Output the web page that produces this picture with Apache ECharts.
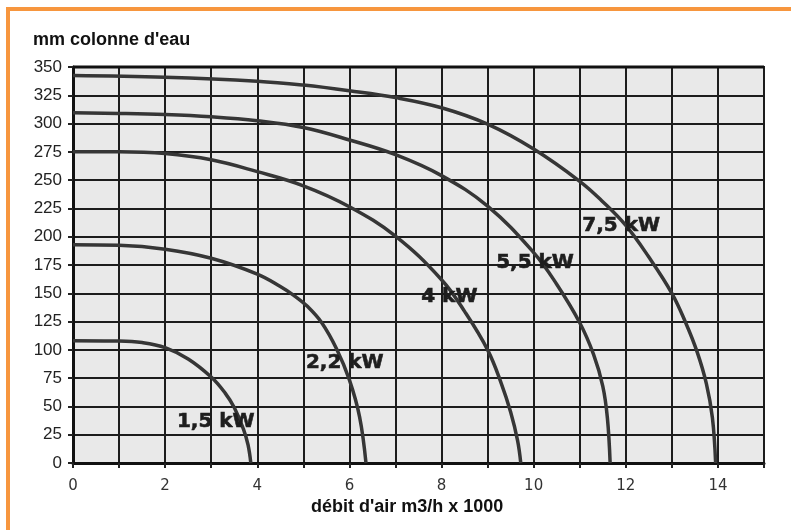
<!DOCTYPE html>
<html>
<head>
<meta charset="utf-8">
<script src="https://cdn.jsdelivr.net/npm/echarts@6/dist/echarts.min.js"></script>
<style>html,body{margin:0;padding:0;background:#fff}#c{width:791px;height:530px}</style>
</head>
<body>
<div id="c"></div>
<script>
// Fan curves: [airflow (m3/h x 1000), pressure (mm water column)]
const curve15 = [[0,108],[1,107.8],[1.5,106.5],[2,102],[2.5,92],[3,76],[3.3,62],[3.5,49],[3.7,30],[3.8,16],[3.86,0]];
const curve22 = [[0,193],[1,192.5],[2,189],[3,181],[4,167],[4.5,156],[4.8,148],[5.1,138],[5.4,124],[5.72,101],[6,73.5],[6.22,41],[6.36,0]];
const curve4  = [[0,275],[1,275],[2,273.5],[3,268],[4,257.5],[5,245],[6,226.5],[7,200.5],[8,162],[8.5,134],[9,100],[9.3,70],[9.5,45],[9.65,20],[9.72,0]];
const curve55 = [[0,309.5],[1,309],[2,308],[3,306],[4,302.5],[5,296.5],[6,285.5],[7,272.5],[8,254],[9,227],[10,186],[10.5,158],[11,124],[11.3,96],[11.5,68],[11.6,40],[11.66,0]];
const curve75 = [[0,342.5],[2,341],[4,337.5],[5,334],[6,329],[7,323],[8,314],[9,299.5],[10,277.5],[11,249],[11.5,231],[12,210],[12.5,182],[13,150],[13.3,124],[13.55,98],[13.75,70],[13.88,40],[13.95,0]];
const curveLabels = ['1,5 kW','2,2 kW','4 kW','5,5 kW','7,5 kW'];
const labelPos = [[3.1,36],[5.9,89],[8.17,146.5],[10.03,177],[11.9,210]];
const xTicks = [0,2,4,6,8,10,12,14];
const yTitle = "mm colonne d'eau";
const xTitle = "débit d'air m3/h x 1000";

const chart = echarts.init(document.getElementById('c'));
const curves = [curve15, curve22, curve4, curve55, curve75];
const lineSeries = curves.map(d => ({
  type: 'line', data: d, smooth: 0.4, showSymbol: false, symbol: 'none',
  lineStyle: {color: '#363636', width: 3.5}, z: 3, silent: true
}));
lineSeries.push({
  type: 'scatter', z: 4, silent: true,
  data: labelPos.map((p, i) => ({value: p, name: curveLabels[i]})),
  symbolSize: 0, itemStyle: {color: '#222', opacity: 1},
  label: {show: true, position: 'inside', formatter: p => p.name, opacity: 1,
    fontFamily: 'DejaVu Sans', fontWeight: 'bold', fontSize: 20, color: '#1e1e1e',
    textBorderColor: '#1e1e1e', textBorderWidth: 0.6}
});
chart.setOption({
  animation: false,
  backgroundColor: '#ffffff',
  grid: {left: 73, top: 67, right: 27, bottom: 67, show: true,
    backgroundColor: '#e9e9e9', borderColor: '#1a1a1a', borderWidth: 2},
  xAxis: {type: 'value', min: 0, max: 15, interval: 1,
    axisLine: {show: true, lineStyle: {color: '#111', width: 3}},
    axisTick: {show: true, length: 5, lineStyle: {color: '#222', width: 2}},
    axisLabel: {margin: 16, fontFamily: 'DejaVu Sans', fontSize: 15, color: '#333',
      formatter: v => xTicks.indexOf(v) >= 0 ? String(v) : ''},
    splitLine: {show: true, lineStyle: {color: '#1c1c1c', width: 2}}},
  yAxis: {type: 'value', min: 0, max: 350, interval: 25,
    axisLine: {show: true, lineStyle: {color: '#111', width: 3}},
    axisTick: {show: true, length: 5, lineStyle: {color: '#222', width: 2}},
    axisLabel: {margin: 11, fontFamily: 'Liberation Sans', fontSize: 17, color: '#222'},
    splitLine: {show: true, lineStyle: {color: '#1c1c1c', width: 2}}},
  graphic: [
    {type: 'rect', shape: {x: 6, y: 7, width: 785, height: 4}, style: {fill: '#f7963e'}},
    {type: 'rect', shape: {x: 6, y: 7, width: 4, height: 523}, style: {fill: '#f7963e'}},
    {type: 'line', shape: {x1: 73, y1: 67, x2: 764, y2: 67}, style: {stroke: '#111', lineWidth: 3}, z: 10},
    {type: 'text', left: 33, top: 31, style: {text: yTitle, fontFamily: 'Liberation Sans', fontWeight: 'bold', fontSize: 18, fill: '#111'}},
    {type: 'text', left: 311, top: 498, style: {text: xTitle, fontFamily: 'Liberation Sans', fontWeight: 'bold', fontSize: 18, fill: '#111'}}
  ],
  series: lineSeries
});
</script>
</body>
</html>
